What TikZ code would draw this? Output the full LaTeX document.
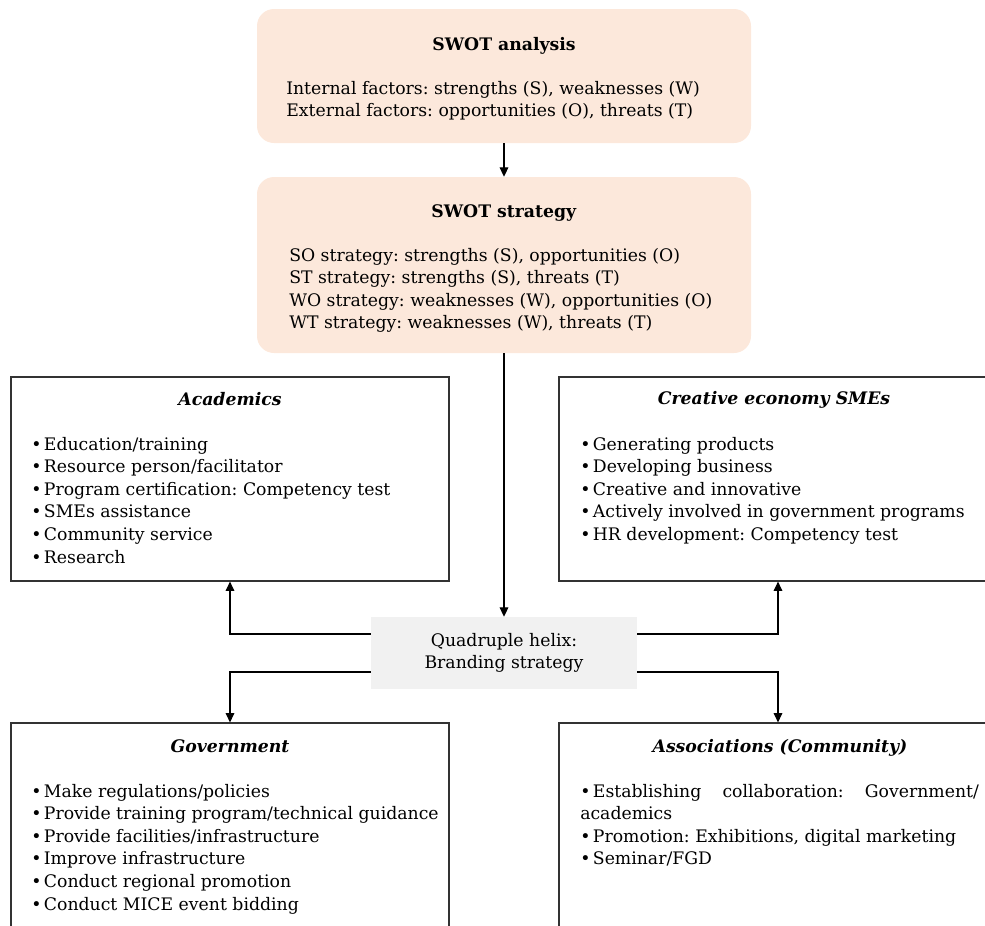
\documentclass[tikz,border=0pt]{standalone}
\usepackage{fontspec}
\setmainfont{DejaVu Serif}
\usetikzlibrary{arrows.meta,fit}
\definecolor{peach}{HTML}{FCE8DB}
\definecolor{helixgray}{HTML}{F1F1F1}
\frenchspacing
\newcommand\bu{\makebox[9.5pt][l]{\textbullet}}
\newcommand\rows[1]{\vtop{\halign{##\hfil\cr#1\crcr}}}
\begin{document}
\begin{tikzpicture}[x=0.75pt,y=-0.75pt,
  txt/.style={inner sep=0pt, font=\fontsize{12.95}{16.95}\selectfont\frenchspacing},
  swot/.style={fill=peach, rounded corners=12.75pt, inner sep=0pt},
  party/.style={draw=black!80, line width=0.9pt, inner sep=0pt},
  helixbox/.style={fill=helixgray, inner sep=0pt},
  conn/.style={line width=0.85pt, -{Triangle[length=7pt,width=6.5pt]}},
]
\useasboundingbox (0,0) rectangle (985,925);
\clip (0,0) rectangle (985,925);

% boxes
\node[swot, fit={(257,9) (751,143)}] (b1) {};
\node[swot, fit={(257,177) (751,353)}] (b2) {};
\node[party, fit={(11,377) (449,581)}] (acad) {};
\node[party, fit={(559,377) (997,581)}] (sme) {};
\node[party, fit={(11,723) (449,960)}] (gov) {};
\node[party, fit={(559,723) (997,960)}] (assoc) {};
\node[helixbox, fit={(371,617) (637,689)}] (helix) {};

% SWOT analysis
\node[txt, anchor=base] (t1) at (504,50) {\textbf{SWOT analysis}};
\node[txt, anchor=base west] (l1) at (286,94) {\rows{Internal factors: strengths (S), weaknesses (W)\cr
External factors: opportunities (O), threats (T)}};

% SWOT strategy
\node[txt, anchor=base] (t2) at (504,217) {\textbf{SWOT strategy}};
\node[txt, anchor=base west] (l2) at (289,261) {\rows{SO strategy: strengths (S), opportunities (O)\cr
ST strategy: strengths (S), threats (T)\cr
WO strategy: weaknesses (W), opportunities (O)\cr
WT strategy: weaknesses (W), threats (T)}};

% Academics
\node[txt, anchor=base] (ta) at (230,405) {\textbf{\textit{Academics}}};
\node[txt, anchor=base west] (la) at (31,450) {\rows{\bu Education/training\cr
\bu Resource person/facilitator\cr
\bu Program certification: Competency test\cr
\bu SMEs assistance\cr
\bu Community service\cr
\bu Research}};

% Creative economy SMEs
\node[txt, anchor=base] (ts) at (774,404) {\textbf{\textit{Creative economy SMEs}}};
\node[txt, anchor=base west] (ls) at (580,450) {\rows{\bu Generating products\cr
\bu Developing business\cr
\bu Creative and innovative\cr
\bu Actively involved in government programs\cr
\bu HR development: Competency test}};

% Helix
\node[txt, align=center] (th) at (helix.center) {Quadruple helix:\\Branding strategy};

% Government
\node[txt, anchor=base] (tg) at (230,752) {\textbf{\textit{Government}}};
\node[txt, anchor=base west] (lg) at (31,797) {\rows{\bu Make regulations/policies\cr
\bu Provide training program/technical guidance\cr
\bu Provide facilities/infrastructure\cr
\bu Improve infrastructure\cr
\bu Conduct regional promotion\cr
\bu Conduct MICE event bidding}};

% Associations
\node[txt, anchor=base] (tc) at (780,752) {\textbf{\textit{Associations (Community)}}};
\node[txt, anchor=base west] (lc) at (580,797) {\rows{\hbox to 299pt{\bu Establishing\hfill collaboration:\hfill Government/}\cr
academics\cr
\bu Promotion: Exhibitions, digital marketing\cr
\bu Seminar/FGD}};

% connectors
\draw[conn] (b1.south) -- (b2.north);
\draw[conn] (b2.south) -- (helix.north);
\draw[conn] ([yshift=14.25pt]helix.west) -| (acad.south);
\draw[conn] ([yshift=14.25pt]helix.east) -| (sme.south);
\draw[conn] ([yshift=-14.25pt]helix.west) -| (gov.north);
\draw[conn] ([yshift=-14.25pt]helix.east) -| (assoc.north);
\end{tikzpicture}
\end{document}
